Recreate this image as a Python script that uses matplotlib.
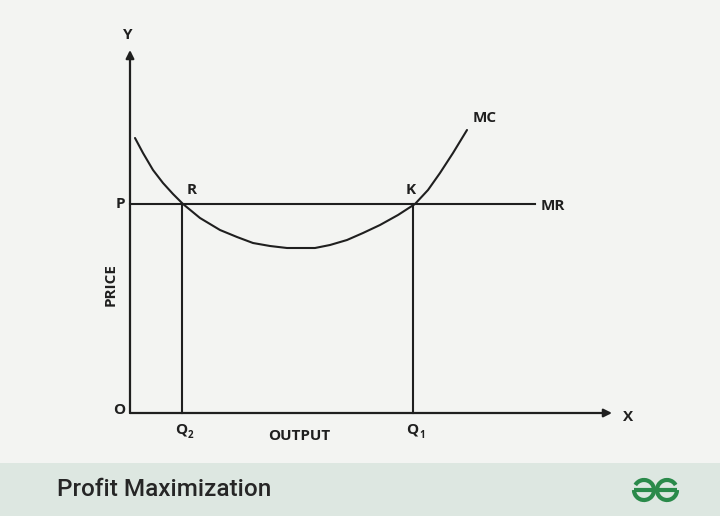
import numpy as np
import matplotlib
matplotlib.use('Agg')
from matplotlib import pyplot as plt
from matplotlib.patches import Rectangle, Arc

# chart values (units: output along x, price along y, origin at O)
price_p = 209
q2, q1 = 52, 283
mr_end = 405
x_axis_end, y_axis_end = 482, 363
mc_x = [5, 13, 23, 33, 43, 53, 70, 90, 107, 123, 140, 157, 170, 185, 200, 217, 233, 250, 268, 285, 298, 310, 323, 337]
mc_y = [275, 260, 243, 230, 219, 209, 195, 183, 176, 170, 167, 165, 165, 165, 168, 173, 180, 188, 198, 209, 223, 240, 260, 283]

ink = '#1f1f1f'
bg = '#f3f4f2'
fam = ['Open Sans', 'DejaVu Sans']
lbl = dict(family=fam, fontweight='bold', color=ink)

fig = plt.figure(figsize=(7.2, 5.16), dpi=100)
fig.patch.set_facecolor(bg)
ax = fig.add_axes([0, 0, 1, 1])
ax.set_xlim(-130, 590)
ax.set_ylim(-103, 413)
ax.axis('off')

# axes with arrows
ax.annotate('', xy=(0, y_axis_end), xytext=(0, 0),
            arrowprops=dict(arrowstyle='-|>', color=ink, lw=1.6, mutation_scale=12, shrinkA=0, shrinkB=0))
ax.annotate('', xy=(x_axis_end, 0), xytext=(0, 0),
            arrowprops=dict(arrowstyle='-|>', color=ink, lw=1.6, mutation_scale=12, shrinkA=0, shrinkB=0))

# MR line, verticals and MC curve
ax.plot([0, mr_end], [price_p, price_p], color=ink, lw=1.5)
ax.plot([q2, q2], [0, price_p], color=ink, lw=1.5)
ax.plot([q1, q1], [0, price_p], color=ink, lw=1.5)
ax.plot(mc_x, mc_y, color=ink, lw=1.5, solid_joinstyle='round', solid_capstyle='round')

# labels
ax.text(-2, 378, 'Y', fontsize=11, ha='center', va='center', **lbl)
ax.text(-10, price_p, 'P', fontsize=11, ha='center', va='center', **lbl)
ax.text(q2 + 10, price_p + 14, 'R', fontsize=11, ha='center', va='center', **lbl)
ax.text(q1 - 2, price_p + 14, 'K', fontsize=11, ha='center', va='center', **lbl)
ax.text(mc_x[-1] + 6, mc_y[-1] + 12, 'MC', fontsize=11, ha='left', va='center', **lbl)
ax.text(mr_end + 6, price_p - 2, 'MR', fontsize=11, ha='left', va='center', **lbl)
ax.text(-11, 3, 'O', fontsize=11, ha='center', va='center', **lbl)
ax.text(x_axis_end + 16, -4, 'X', fontsize=11, ha='center', va='center', **lbl)
for qx, sub in [(q2, '2'), (q1, '1')]:
    ax.text(qx - 1, -16, 'Q', fontsize=11, ha='center', va='center', **lbl)
    ax.text(qx + 6, -23, sub, fontsize=7, ha='left', va='center', **lbl)
ax.text(169, -23, 'OUTPUT', fontsize=11, ha='center', va='center', **lbl)
ax.text(-19, 128, 'PRICE', fontsize=11, ha='center', va='center', rotation=90, **lbl)

# footer band
ax.add_patch(Rectangle((-130, -103), 720, 53, facecolor='#dde7e1', edgecolor='none'))
ax.text(-73, -77, 'Profit Maximization', fontsize=17.5, ha='left', va='center',
        family=['Roboto', 'DejaVu Sans'], fontweight='medium', color='#262626')

# logo
green = '#2a8a4a'
ax.add_patch(Arc((514, -77), 20, 20, theta1=-180, theta2=150, color=green, lw=3))
ax.add_patch(Arc((537, -77), 20, 20, theta1=30, theta2=360, color=green, lw=3))
ax.plot([504, 547], [-77, -77], color=green, lw=3, solid_capstyle='butt')

fig.savefig('out.png', dpi=100, facecolor=fig.get_facecolor())
plt.close()
